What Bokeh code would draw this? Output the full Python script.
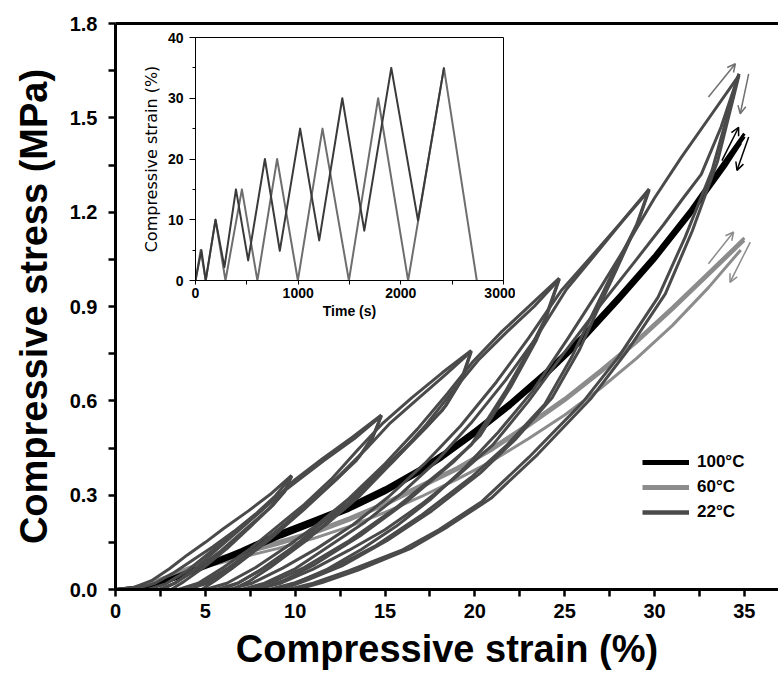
from bokeh.plotting import figure
from bokeh.models import (Range1d, FixedTicker, LinearAxis, NumeralTickFormatter, Legend,
                          LegendItem, Arrow, OpenHead, ColumnDataSource, GridBox, Column)
from bokeh.embed import file_html
from bokeh.resources import INLINE

# ---------------- main chart data: (strain %, stress MPa) ----------------
strain_ticks = [0, 5, 10, 15, 20, 25, 30, 35]
strain_minor = [2.5, 7.5, 12.5, 17.5, 22.5, 27.5, 32.5]
stress_ticks = [0.0, 0.3, 0.6, 0.9, 1.2, 1.5, 1.8]
stress_minor = [0.15, 0.45, 0.75, 1.05, 1.35, 1.65]

# 22 C cycles (two loading programmes)
load10_a = [(0, 0), (1, 0.006), (2, 0.028), (3, 0.066), (4, 0.11), (5, 0.15), (6, 0.193), (7.4, 0.25), (8.6, 0.302), (9.8, 0.363)]
load10_b = [(0, 0), (1.2, 0.004), (2.2, 0.02), (3.2, 0.052), (4.2, 0.09), (5.4, 0.135), (6.6, 0.185), (7.8, 0.24), (8.9, 0.298), (9.8, 0.36)]
unload10_a = [(9.8, 0.363), (9.4, 0.31), (8.6, 0.26), (7.3, 0.195), (5.8, 0.12), (4.4, 0.06), (3.3, 0.02), (2.6, 0)]
unload10_b = [(9.8, 0.36), (9.45, 0.315), (8.8, 0.27), (7.6, 0.205), (6.2, 0.13), (4.9, 0.07), (3.8, 0.025), (3.1, 0)]
reload15_a = [(1.8, 0), (2.8, 0.018), (4, 0.06), (5.3, 0.12), (6.6, 0.18), (7.9, 0.24), (9, 0.295), (9.9, 0.345), (11.5, 0.415), (13.2, 0.485), (14.8, 0.555)]
reload15_b = [(2.4, 0), (3.3, 0.02), (4.4, 0.065), (5.6, 0.125), (6.9, 0.19), (8.1, 0.25), (9.1, 0.3), (10, 0.34), (11.6, 0.41), (13.3, 0.48), (14.8, 0.552)]
unload15_a = [(14.8, 0.555), (14.3, 0.48), (13.4, 0.41), (12, 0.335), (10, 0.235), (8, 0.14), (6.3, 0.07), (5, 0.025), (4.2, 0)]
unload15_b = [(14.8, 0.552), (14.35, 0.49), (13.6, 0.425), (12.3, 0.35), (10.5, 0.255), (8.6, 0.16), (6.9, 0.085), (5.6, 0.03), (4.8, 0)]
reload20_a = [(3.5, 0), (4.6, 0.02), (6, 0.07), (7.5, 0.13), (9, 0.2), (10.5, 0.27), (12, 0.35), (13.5, 0.445), (14.9, 0.53), (16.5, 0.61), (18.2, 0.69), (19.8, 0.76)]
reload20_b = [(4.0, 0), (5.1, 0.02), (6.5, 0.068), (8, 0.14), (9.5, 0.21), (11, 0.285), (12.5, 0.365), (14, 0.45), (15.3, 0.53), (16.9, 0.61), (18.4, 0.685), (19.8, 0.757)]
unload20_a = [(19.8, 0.76), (19.2, 0.66), (18.2, 0.57), (17, 0.5), (15, 0.39), (12.5, 0.26), (10, 0.14), (8, 0.06), (6.8, 0.02), (5.9, 0)]
unload20_b = [(19.8, 0.757), (19.3, 0.67), (18.4, 0.585), (17.3, 0.515), (15.4, 0.405), (13, 0.275), (10.6, 0.155), (8.6, 0.07), (7.4, 0.025), (6.5, 0)]
reload25_a = [(5, 0), (6.2, 0.02), (7.8, 0.07), (9.5, 0.135), (11.2, 0.205), (13, 0.29), (15, 0.4), (16.8, 0.51), (18.5, 0.625), (19.9, 0.725), (21.5, 0.82), (23.1, 0.905), (24.7, 0.99)]
reload25_b = [(5.6, 0), (6.8, 0.02), (8.4, 0.072), (10.1, 0.138), (11.8, 0.21), (13.6, 0.298), (15.5, 0.41), (17.3, 0.525), (18.9, 0.64), (20.2, 0.73), (21.8, 0.82), (23.3, 0.9), (24.7, 0.987)]
unload25_a = [(24.7, 0.99), (23.9, 0.86), (23.2, 0.78), (21.7, 0.63), (19.8, 0.46), (18.2, 0.38), (15.5, 0.255), (13, 0.155), (10.5, 0.07), (8.8, 0.025), (7.4, 0)]
unload25_b = [(24.7, 0.987), (24.0, 0.87), (23.4, 0.79), (22.0, 0.645), (20.3, 0.49), (18.8, 0.405), (16.1, 0.275), (13.6, 0.17), (11.1, 0.08), (9.4, 0.03), (8.0, 0)]
reload30_a = [(6.3, 0), (7.6, 0.02), (9.3, 0.068), (11.2, 0.13), (13.2, 0.205), (15.2, 0.295), (17.2, 0.4), (19.2, 0.52), (21.2, 0.66), (23, 0.8), (24.8, 0.95), (26.5, 1.06), (28.1, 1.165), (29.7, 1.274)]
reload30_b = [(7, 0), (8.3, 0.02), (10, 0.066), (11.9, 0.138), (13.9, 0.215), (15.9, 0.305), (17.9, 0.41), (19.8, 0.53), (21.7, 0.665), (23.4, 0.8), (25.1, 0.955), (26.7, 1.065), (28.2, 1.17), (29.7, 1.27)]
unload30_a = [(29.7, 1.274), (29.0, 1.16), (27.6, 1.0), (26.5, 0.87), (25.4, 0.74), (23.9, 0.59), (21.8, 0.46), (19.8, 0.357), (17, 0.235), (14.5, 0.14), (12, 0.065), (10, 0.022), (8.6, 0)]
unload30_b = [(29.7, 1.27), (29.1, 1.17), (27.9, 1.02), (26.8, 0.885), (25.8, 0.76), (24.3, 0.61), (22.3, 0.48), (20.3, 0.37), (17.6, 0.25), (15.1, 0.155), (12.6, 0.075), (10.6, 0.028), (9.2, 0)]
reload35_a = [(7.8, 0), (9.2, 0.02), (11, 0.065), (13, 0.125), (15, 0.19), (17, 0.27), (19, 0.36), (21, 0.46), (23, 0.6), (25, 0.755), (27, 0.905), (29, 1.05), (30.5, 1.16), (31.6, 1.245), (32.6, 1.32), (33.7, 1.47), (34.7, 1.64)]
reload35_b = [(8.6, 0), (10, 0.02), (11.8, 0.065), (13.7, 0.128), (15.6, 0.2), (17.5, 0.285), (19.4, 0.385), (21.3, 0.5), (23.2, 0.63), (25.2, 0.8), (27, 0.96), (28.5, 1.1), (30, 1.245), (31.5, 1.375), (33.1, 1.505), (34.7, 1.635)]
unload35_a = [(34.7, 1.64), (33.2, 1.333), (31.7, 1.12), (30.2, 0.93), (28, 0.74), (26, 0.595), (23, 0.42), (20.4, 0.28), (18, 0.19), (15.9, 0.124), (13, 0.06), (11, 0.02), (9.6, 0)]
unload35_b = [(34.7, 1.635), (33.5, 1.36), (32.1, 1.14), (30.6, 0.94), (28.5, 0.76), (26.5, 0.61), (23.5, 0.43), (20.9, 0.29), (18.5, 0.2), (16.4, 0.13), (13.5, 0.062), (11.5, 0.022), (10.1, 0)]

# 60 C band
c60_up = [(0, 0), (1, 0.007), (2, 0.023), (3, 0.045), (4, 0.068), (5, 0.089), (7, 0.121), (9, 0.151), (11, 0.185), (13, 0.228), (15, 0.276), (17, 0.333), (19, 0.388), (21, 0.453), (23, 0.528), (25, 0.608), (27, 0.698), (29, 0.793), (31, 0.898), (33, 1.008), (35, 1.118)]
c60_mid = [(0, 0), (1, 0.006), (2, 0.02), (3, 0.04), (4, 0.062), (5, 0.082), (7, 0.113), (9, 0.143), (11, 0.177), (13, 0.22), (15, 0.268), (17, 0.325), (19, 0.38), (21, 0.445), (23, 0.52), (25, 0.6), (27, 0.69), (29, 0.785), (31, 0.89), (33, 1.0), (35, 1.11)]
c60_lo = [(0.5, 0), (2, 0.014), (3, 0.032), (4, 0.053), (5, 0.072), (7, 0.102), (9, 0.13), (11, 0.162), (13, 0.2), (15, 0.245), (17, 0.295), (19, 0.35), (21, 0.41), (23, 0.48), (25, 0.555), (27, 0.64), (29, 0.735), (31, 0.84), (33, 0.96), (34.8, 1.08)]

# 100 C band
c100_up = [(0, 0), (2, 0.012), (3.65, 0.05), (5, 0.08), (7, 0.127), (9.2, 0.183), (11, 0.223), (13, 0.268), (15, 0.323), (17, 0.388), (18.2, 0.433), (20, 0.508), (22, 0.598), (24, 0.698), (26, 0.809), (28, 0.934), (30, 1.064), (32, 1.209), (34, 1.37), (35, 1.45)]
c100_mid = [(0.5, 0), (2, 0.009), (3.65, 0.045), (5, 0.075), (7, 0.12), (9.2, 0.175), (11, 0.215), (13, 0.26), (15, 0.315), (17, 0.38), (18.2, 0.425), (20, 0.5), (22, 0.59), (24, 0.69), (26, 0.8), (28, 0.925), (30, 1.055), (32, 1.2), (34, 1.36), (35, 1.44)]
c100_lo = [(1, 0), (2, 0.006), (3.65, 0.04), (5, 0.07), (7, 0.113), (9.2, 0.167), (11, 0.207), (13, 0.252), (15, 0.307), (17, 0.372), (18.2, 0.417), (20, 0.492), (22, 0.582), (24, 0.682), (26, 0.791), (28, 0.916), (30, 1.046), (32, 1.191), (34, 1.35), (34.8, 1.42)]

# direction arrows: start (strain, stress) -> end (strain, stress)
arr22_x0 = [33.0, 35.24]; arr22_y0 = [1.566, 1.64]; arr22_x1 = [34.5, 34.77]; arr22_y1 = [1.672, 1.513]
arr100_x0 = [33.75, 35.24]; arr100_y0 = [1.364, 1.439]; arr100_x1 = [34.68, 34.59]; arr100_y1 = [1.47, 1.333]
arr60_x0 = [33.0, 35.33]; arr60_y0 = [1.036, 1.105]; arr60_x1 = [34.4, 34.2]; arr60_y1 = [1.137, 0.977]

legend_labels = ["100°C", "60°C", "22°C"]

# ---------------- inset data: strain programme ----------------
time_full = [0, 50, 100, 195, 292, 452, 603, 795, 997, 1237, 1494, 1779, 2071, 2420, 2740]
strain_full = [0, 5, 0, 10, 0, 15, 0, 20, 0, 25, 0, 30, 0, 35, 0]
time_part = [0, 58, 99, 195, 282, 394, 513, 676, 821, 1019, 1205, 1430, 1644, 1907, 2167, 2420]
strain_part = [0, 5, 0, 10, 2.2, 15, 3.3, 20, 4.9, 25, 6.6, 30, 8.2, 35, 9.9, 35]
inset_xticks = [0, 1000, 2000, 3000]
inset_xminor = [500, 1500, 2500]
inset_yticks = [0, 10, 20, 30, 40]
inset_yminor = [5, 15, 25, 35]

# ---------------- styles ----------------
FONT = "Liberation Sans"
C22 = "#4a4a4a"
C60 = "#8c8c8c"
C100 = "#000000"

curves22 = [load10_a, load10_b, unload10_a, unload10_b, reload15_a, reload15_b, unload15_a, unload15_b,
            reload20_a, reload20_b, unload20_a, unload20_b, reload25_a, reload25_b, unload25_a, unload25_b,
            reload30_a, reload30_b, unload30_a, unload30_b, reload35_a, reload35_b, unload35_a, unload35_b]
curves60 = [c60_up, c60_mid, c60_lo]
curves100 = [c100_up, c100_mid, c100_lo]


def xs_of(curves):
    return [[pt[0] for pt in c] for c in curves]


def ys_of(curves):
    return [[pt[1] for pt in c] for c in curves]


p = figure(width=778, height=679, x_range=Range1d(0, 36.9), y_range=Range1d(0, 1.8),
           output_backend="svg", toolbar_location=None,
           min_border_left=115, min_border_right=0, min_border_top=23, min_border_bottom=90)
p.grid.visible = False
p.outline_line_color = None

p.multi_line(xs=xs_of(curves60), ys=ys_of(curves60), line_color=C60, line_width=3, line_join="round")
p.multi_line(xs=xs_of(curves100), ys=ys_of(curves100), line_color=C100, line_width=3, line_join="round")
p.multi_line(xs=xs_of(curves22), ys=ys_of(curves22), line_color=C22, line_width=3, line_join="round")

for (x0, y0, x1, y1, col) in [(arr22_x0, arr22_y0, arr22_x1, arr22_y1, "#707070"),
                              (arr100_x0, arr100_y0, arr100_x1, arr100_y1, "#000000"),
                              (arr60_x0, arr60_y0, arr60_x1, arr60_y1, "#8c8c8c")]:
    src = ColumnDataSource(dict(x0=x0, y0=y0, x1=x1, y1=y1))
    p.add_layout(Arrow(end=OpenHead(size=8, line_color=col, line_width=1.5), source=src,
                       x_start="x0", y_start="y0", x_end="x1", y_end="y1",
                       line_color=col, line_width=1.5))

# axes
p.xaxis.ticker = FixedTicker(ticks=strain_ticks, minor_ticks=strain_minor)
p.yaxis.ticker = FixedTicker(ticks=stress_ticks, minor_ticks=stress_minor)
p.xaxis.formatter = NumeralTickFormatter(format="0")
p.yaxis.formatter = NumeralTickFormatter(format="0.0")
p.xaxis.axis_label = "Compressive strain (%)"
p.yaxis.axis_label = "Compressive stress (MPa)"
for ax in (p.xaxis[0], p.yaxis[0]):
    ax.axis_line_width = 3
    ax.major_tick_line_width = 2.5
    ax.minor_tick_line_width = 2.5
    ax.major_tick_out = 7
    ax.major_tick_in = 0
    ax.minor_tick_out = 7
    ax.minor_tick_in = 0
    ax.major_label_text_font = FONT
    ax.major_label_text_font_style = "bold"
    ax.major_label_text_font_size = "20px"
    ax.major_label_text_color = "black"
    ax.axis_label_text_font = FONT
    ax.axis_label_text_font_style = "bold"
    ax.axis_label_text_font_size = "38px"
    ax.axis_label_text_color = "black"
p.xaxis.major_label_standoff = 7
p.xaxis.axis_label_standoff = 7
p.yaxis.major_label_standoff = 11
p.yaxis.axis_label_standoff = 12

top_axis = LinearAxis(ticker=FixedTicker(ticks=[]), axis_line_width=3,
                      major_tick_line_color=None, minor_tick_line_color=None,
                      major_tick_out=0, major_tick_in=0, minor_tick_out=0,
                      major_label_standoff=0, major_label_text_font_size="0px")
p.add_layout(top_axis, "above")

# legend (proxy renderers carry only the legend line style)
nan = float("nan")
r100 = p.line(x=[nan], y=[nan], line_color=C100, line_width=5)
r60 = p.line(x=[nan], y=[nan], line_color=C60, line_width=5)
r22 = p.line(x=[nan], y=[nan], line_color=C22, line_width=4.5)
legend = Legend(items=[LegendItem(label=legend_labels[0], renderers=[r100]),
                       LegendItem(label=legend_labels[1], renderers=[r60]),
                       LegendItem(label=legend_labels[2], renderers=[r22])],
                location=(527, 67), orientation="vertical", glyph_width=47, glyph_height=20,
                label_height=20, spacing=5, padding=0, margin=0, label_standoff=8,
                label_text_font=FONT, label_text_font_style="bold", label_text_font_size="17px",
                label_text_color="black", background_fill_alpha=0, border_line_color=None)
p.add_layout(legend)

# ---------------- inset ----------------
ins = figure(width=377, height=294, x_range=Range1d(0, 3000), y_range=Range1d(0, 40),
             output_backend="svg", toolbar_location=None,
             min_border_left=55, min_border_right=12, min_border_top=7, min_border_bottom=44)
ins.grid.visible = False
ins.outline_line_color = "black"
ins.outline_line_width = 1
ins.background_fill_alpha = 0
ins.border_fill_alpha = 0
ins.line(time_full, strain_full, line_color="#6e6e6e", line_width=2, line_join="round")
ins.line(time_part, strain_part, line_color="#3a3a3a", line_width=2, line_join="round")

ins.xaxis.ticker = FixedTicker(ticks=inset_xticks, minor_ticks=inset_xminor)
ins.yaxis.ticker = FixedTicker(ticks=inset_yticks, minor_ticks=inset_yminor)
ins.xaxis.formatter = NumeralTickFormatter(format="0")
ins.yaxis.formatter = NumeralTickFormatter(format="0")
ins.xaxis.axis_label = "Time (s)"
ins.yaxis.axis_label = "Compressive strain (%)"
for ax in (ins.xaxis[0], ins.yaxis[0]):
    ax.axis_line_width = 1
    ax.major_tick_line_width = 1
    ax.minor_tick_line_width = 1
    ax.major_tick_in = 0
    ax.minor_tick_in = 0
    ax.major_label_text_font = FONT
    ax.major_label_text_font_style = "bold"
    ax.major_label_text_font_size = "14px"
    ax.major_label_text_color = "black"
    ax.axis_label_text_color = "black"
ins.yaxis.major_tick_out = 6
ins.yaxis.minor_tick_out = 3
ins.xaxis.major_tick_out = 4
ins.xaxis.minor_tick_out = 4
ins.yaxis.major_label_standoff = 6
ins.xaxis.major_label_standoff = 3
ins.xaxis.axis_label_text_font = FONT
ins.xaxis.axis_label_text_font_style = "bold"
ins.xaxis.axis_label_text_font_size = "14px"
ins.xaxis.axis_label_standoff = 2
ins.yaxis.axis_label_text_font = "DejaVu Sans"
ins.yaxis.axis_label_text_font_style = "normal"
ins.yaxis.axis_label_text_font_size = "16px"
ins.yaxis.axis_label_standoff = 4

inset_box = Column(children=[ins], margin=(30, 0, 0, 138))
layout = GridBox(children=[(p, 0, 0), (inset_box, 0, 0)])
open("out.html", "w").write(file_html(layout, INLINE))
